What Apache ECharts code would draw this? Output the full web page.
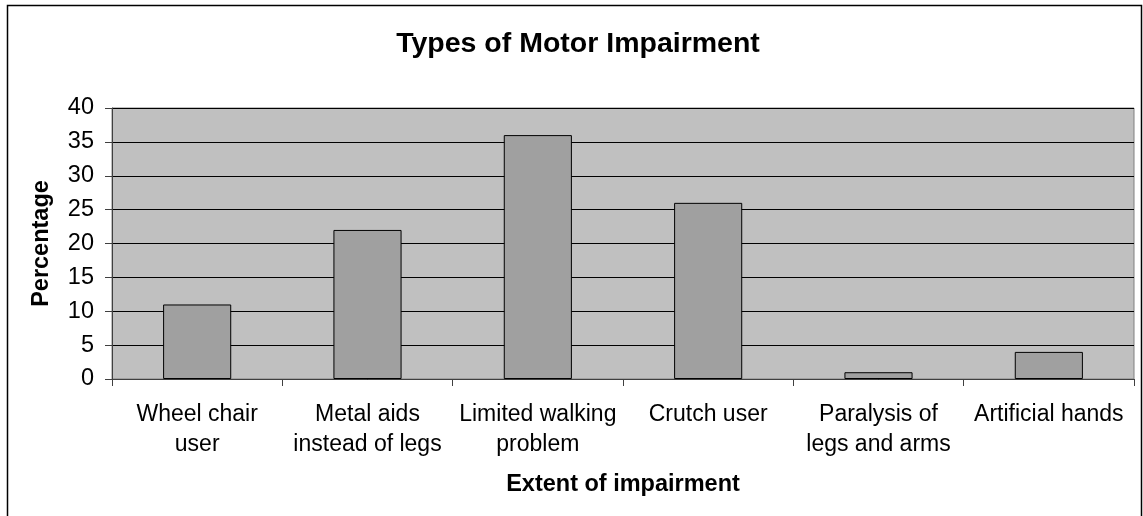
<!DOCTYPE html>
<html>
<head>
<meta charset="utf-8">
<script src="https://cdn.jsdelivr.net/npm/echarts@6/dist/echarts.min.js"></script>
<style>
html,body{margin:0;padding:0;background:#fff;}
#chart{width:1143px;height:516px;}
</style>
</head>
<body>
<div id="chart"></div>
<script>
const titleText = "Types of Motor Impairment";
const categories = ["Wheel chair\nuser", "Metal aids\ninstead of legs", "Limited walking\nproblem", "Crutch user", "Paralysis of\nlegs and arms", "Artificial hands"];
const percentages = [11, 22, 36, 26, 1, 4];
const yTicks = [0, 5, 10, 15, 20, 25, 30, 35, 40];
const xAxisName = "Extent of impairment";
const yAxisName = "Percentage";

const FONT = "'Liberation Sans', Arial, sans-serif";
const chart = echarts.init(document.getElementById('chart'), null, {renderer: 'canvas'});
chart.setOption({
  animation: false,
  backgroundColor: '#ffffff',
  title: {
    text: titleText,
    left: 573, top: 25, textAlign: 'center',
    textStyle: {fontFamily: FONT, fontWeight: 'bold', fontSize: 28.5, color: '#000'}
  },
  graphic: [{
    type: 'rect', silent: true, z: 100,
    shape: {x: 7.5, y: 5.5, width: 1134, height: 560},
    style: {fill: 'none', stroke: '#000', lineWidth: 1.5}
  }],
  grid: {
    left: 112, right: 9, top: 108, bottom: 137,
    show: true, backgroundColor: '#C0C0C0', borderColor: '#808080', borderWidth: 1
  },
  xAxis: {
    type: 'category',
    data: categories,
    name: xAxisName,
    nameLocation: 'middle',
    nameGap: 94,
    nameTextStyle: {fontFamily: FONT, fontWeight: 'bold', fontSize: 23.5, color: '#000'},
    axisLine: {show: true, lineStyle: {color: '#404040', width: 1}},
    axisTick: {show: true, length: 7, alignWithLabel: false, lineStyle: {color: '#404040'}},
    axisLabel: {
      interval: 0, margin: 21, fontFamily: FONT, fontSize: 23, color: '#000', lineHeight: 30
    },
    splitLine: {show: false}
  },
  yAxis: {
    type: 'value',
    min: 0, max: 40, interval: 5,
    name: yAxisName,
    nameLocation: 'middle',
    nameGap: 58,
    nameRotate: 90,
    nameTextStyle: {fontFamily: FONT, fontWeight: 'bold', fontSize: 23.5, color: '#000'},
    axisLine: {show: true, lineStyle: {color: '#404040', width: 1}},
    axisTick: {show: true, length: 7, lineStyle: {color: '#404040'}},
    axisLabel: {margin: 18, fontFamily: FONT, fontSize: 23.5, color: '#000',
      formatter: v => yTicks.includes(v) ? String(v) : ''},
    splitLine: {show: true, lineStyle: {color: '#000', width: 1}}
  },
  series: [{
    type: 'bar',
    data: percentages,
    barWidth: '40%',
    itemStyle: {color: '#A0A0A0', borderColor: '#000', borderWidth: 1}
  }]
});
</script>
</body>
</html>
